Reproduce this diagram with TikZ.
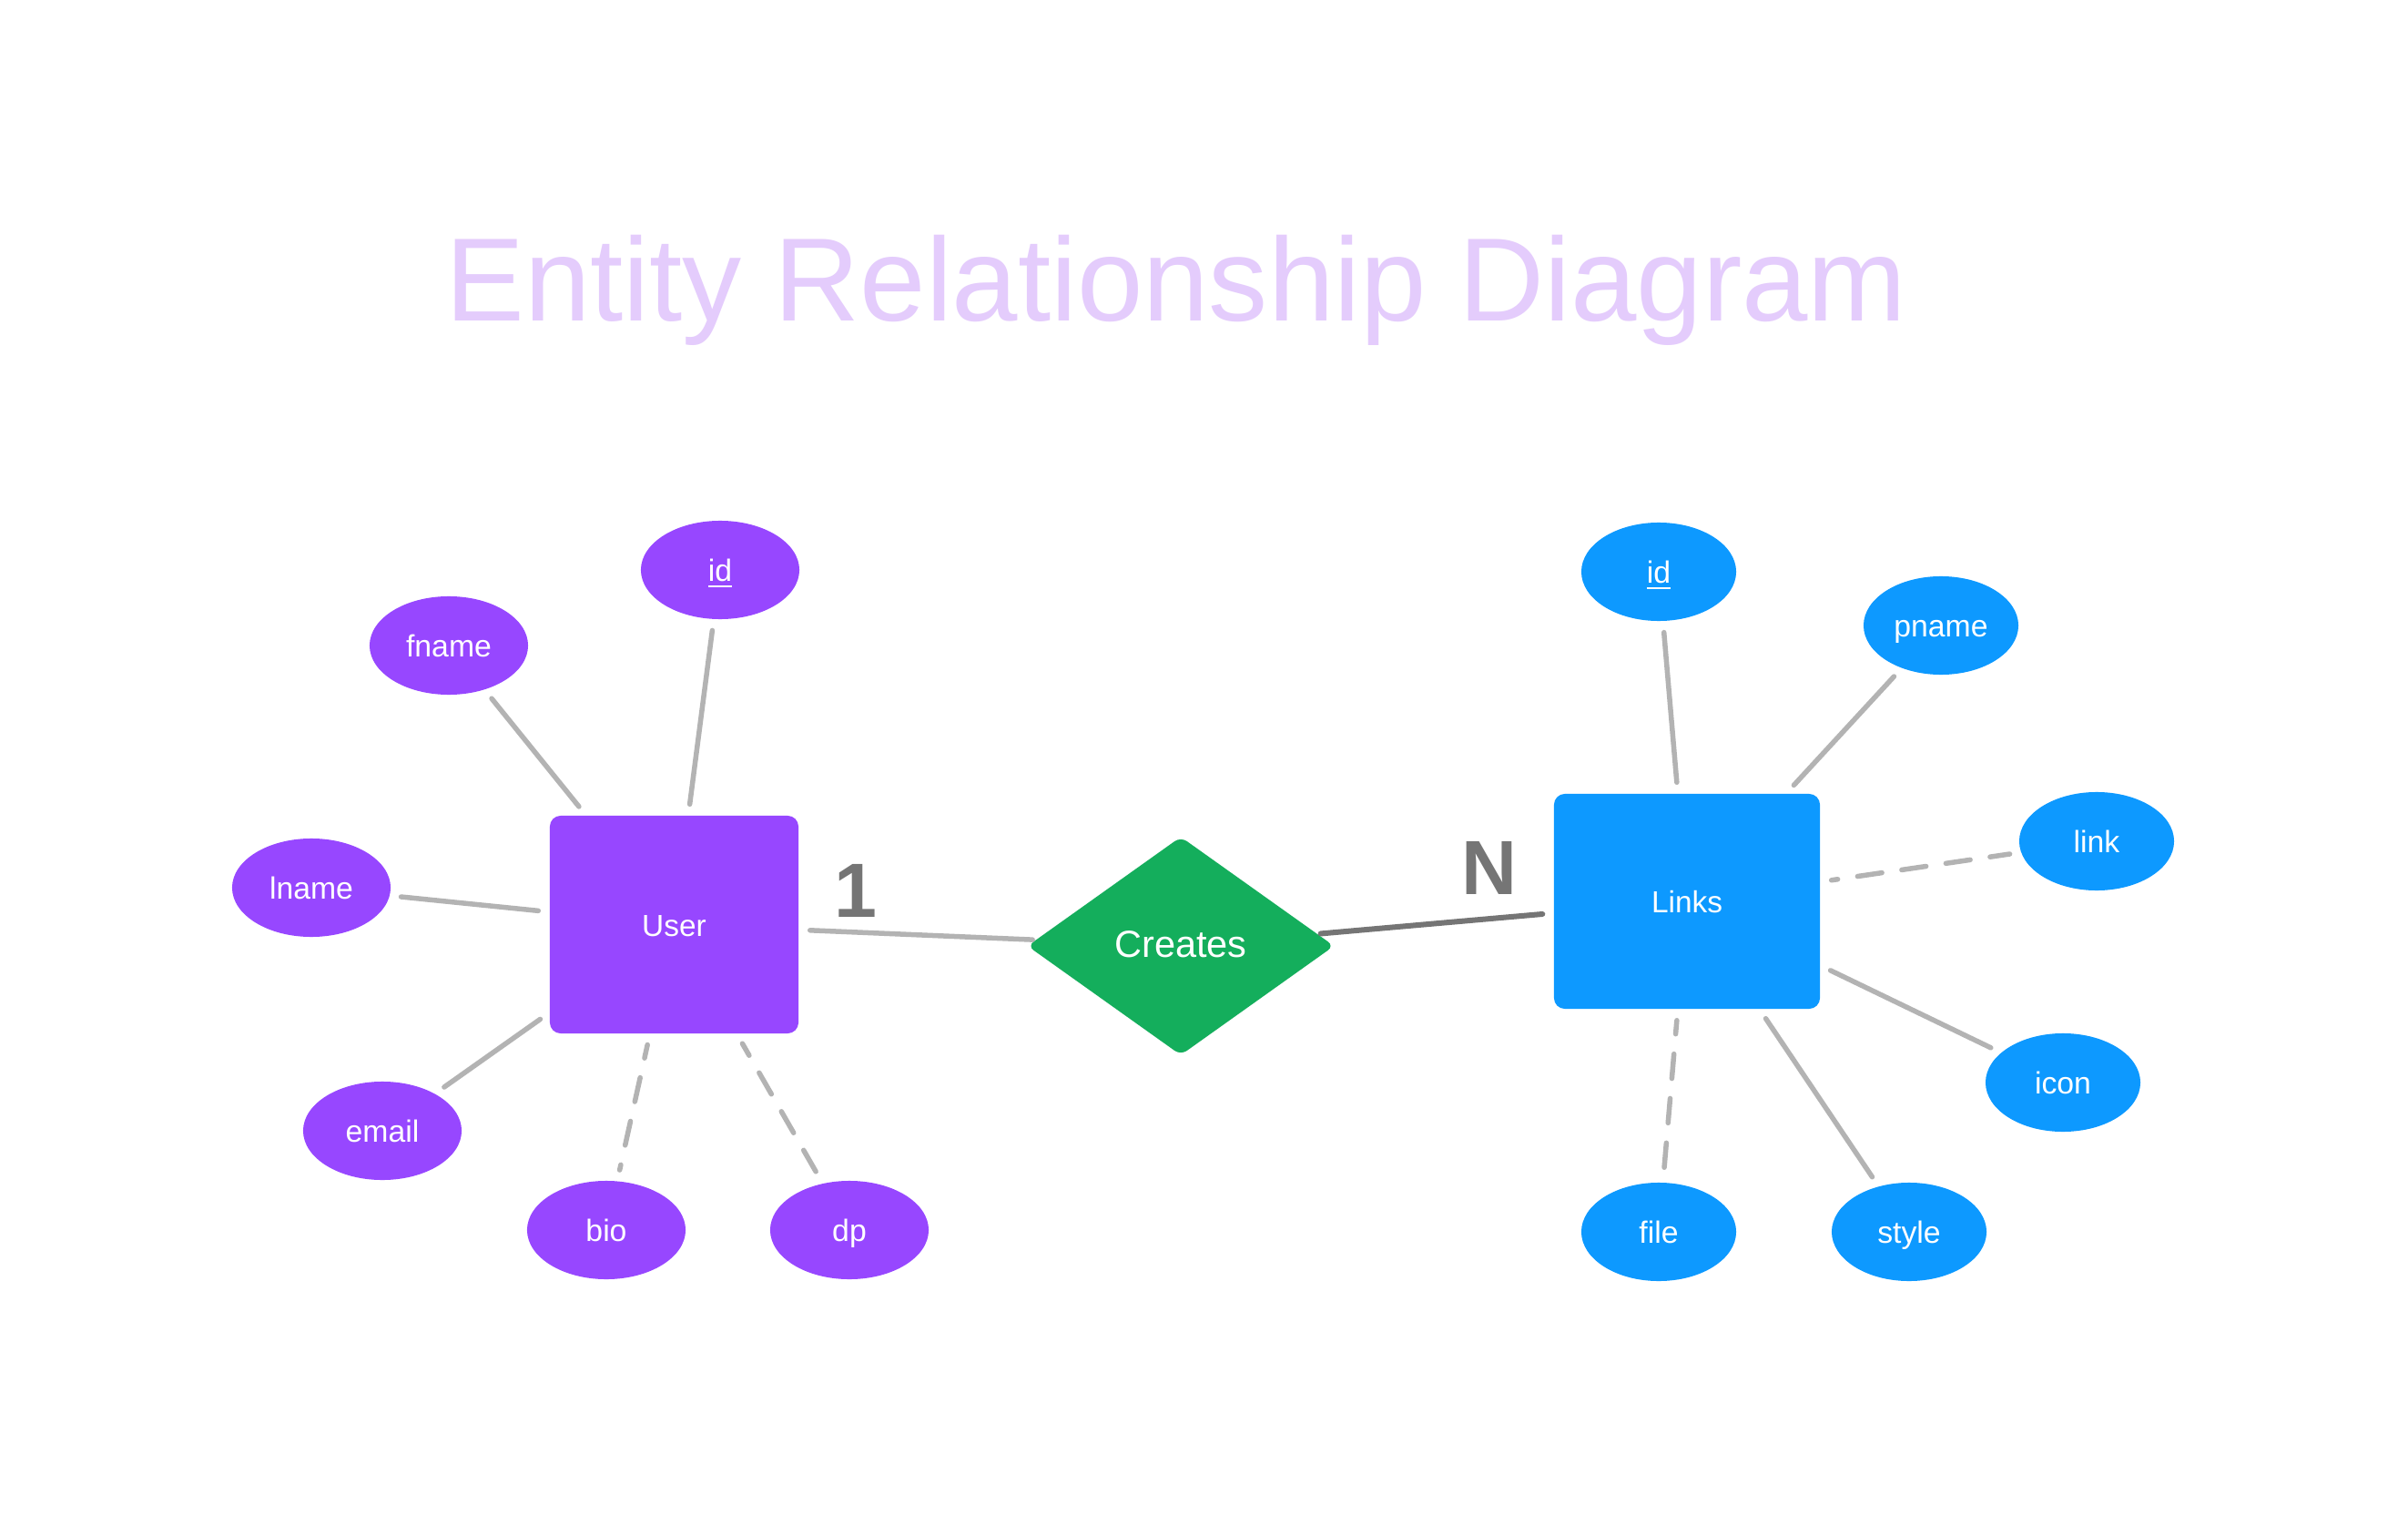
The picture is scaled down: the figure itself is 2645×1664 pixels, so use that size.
\documentclass[tikz,border=0pt]{standalone}
\usepackage{fontspec}
\setmainfont{Liberation Sans}
\usetikzlibrary{shapes.geometric}
\definecolor{upurple}{HTML}{9747FF}
\definecolor{lblue}{HTML}{0D99FF}
\definecolor{rgreen}{HTML}{14AE5C}
\definecolor{lgray}{HTML}{B3B3B3}
\definecolor{dgray}{HTML}{757575}
\definecolor{titlec}{HTML}{E4CCFC}
\begin{document}
\begin{tikzpicture}[x=0.01cm,y=-0.01cm,
  entitybox/.style={rectangle, rounded corners=0.12cm, text=white, font=\fontsize{9.5}{11}\selectfont, inner sep=0, text height=0.72em, text depth=0pt},
  attr/.style={ellipse, minimum width=1.74cm, minimum height=1.08cm, inner sep=0, text=white, font=\fontsize{9.6}{11}\selectfont, text height=0.72em, text depth=0pt},
  pattr/.style={attr, fill=upurple},
  battr/.style={attr, fill=lblue, minimum width=1.70cm},
  conn/.style={draw=lgray, line width=0.055cm, line cap=round, shorten <=0.12cm, shorten >=0.12cm},
  dashedconn/.style={conn, dash pattern=on 0.27cm off 0.22cm, dash phase=0.12cm},
  card/.style={text=dgray, font=\bfseries\fontsize{24}{28}\selectfont, inner sep=0},
]
\fill[white] (0,0) rectangle (2645,1664);
\useasboundingbox (0,0) rectangle (2645,1664);

\node[text=titlec, font=\fontsize{37}{44}\selectfont, anchor=base, inner sep=0] (title) at (1292,353) {Entity Relationship Diagram};

% entities and relationship
\node[entitybox, fill=upurple, minimum width=2.73cm, minimum height=2.39cm] (user) at (740.5,1015.5) {User};
\node[entitybox, fill=lblue, minimum width=2.92cm, minimum height=2.36cm] (links) at (1853,990) {Links};
\node[diamond, fill=rgreen, minimum width=3.37cm, minimum height=2.40cm, inner sep=0, rounded corners=0.08cm, text=white, font=\fontsize{11.8}{14}\selectfont, text height=0.72em, text depth=0pt] (creates) at (1297,1039) {Creates};

% user attributes
\node[pattr] (uid) at (791,626) {\underline{id}};
\node[pattr] (fname) at (493,709) {fname};
\node[pattr] (lname) at (342,975) {lname};
\node[pattr] (email) at (420,1242) {email};
\node[pattr] (bio) at (666,1351) {bio};
\node[pattr] (dp) at (933,1351) {dp};

% links attributes
\node[battr] (lid) at (1822,628) {\underline{id}};
\node[battr] (pname) at (2132,687) {pname};
\node[battr] (link) at (2303,924) {link};
\node[battr] (icon) at (2266,1189) {icon};
\node[battr] (style) at (2097,1353) {style};
\node[battr] (file) at (1822,1353) {file};

% cardinalities
\node[card] (one) at (940,978) {1};
\node[card] (many) at (1636,953) {N};

% connectors
\draw[conn, shorten >=0.03cm] (user) -- (creates);
\draw[conn, draw=dgray, line width=0.06cm, shorten <=0.03cm] (creates) -- (links);

\draw[conn] (user) -- (uid);
\draw[conn] (user) -- (fname);
\draw[conn] (user) -- (lname);
\draw[conn] (user) -- (email);
\draw[dashedconn] (user) -- (bio);
\draw[dashedconn] (user) -- (dp);

\draw[conn] (links) -- (lid);
\draw[conn] (links) -- (pname);
\draw[dashedconn, dash phase=0.2cm] (links) -- (link);
\draw[conn] (links) -- (icon);
\draw[conn] (links) -- (style);
\draw[dashedconn] (links) -- (file);
\end{tikzpicture}
\end{document}
